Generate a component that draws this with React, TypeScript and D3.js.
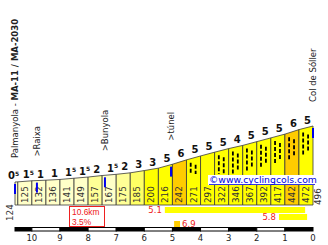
import React from "react";
import * as d3 from "d3";

const boundaryKm = [10.6, 10.5, 10, 9.5, 9, 8.5, 8, 7.5, 7, 6.5, 6, 5.5, 5, 4.5, 4, 3.5, 3, 2.5, 2, 1.5, 1, 0.5, 0];
const altitudes = [124, 125, 132, 136, 141, 149, 157, 167, 175, 185, 200, 216, 242, 271, 297, 322, 346, 367, 392, 417, 442, 472, 496];
const gradientMain = ["0", "1", "1", "1", "1", "1", "2", "1", "2", "3", "3", "5", "6", "5", "5", "5", "4", "5", "5", "5", "6", "5"];
const gradientSup = ["5", "5", "", "", "5", "5", "", "5", "", "", "", "", "", "", "", "", "", "", "", "", "", ""];
const segmentClass = [0, 0, 0, 0, 0, 0, 1, 0, 1, 2, 3, 3, 4, 3, 3, 3, 3, 3, 3, 3, 4, 3];
const classColors = ["#ffffc8", "#ffff96", "#ffff64", "#ffff00", "#ffcc00"];
const dashedSegments = [13, 15, 16, 17, 18, 19, 20, 21];

const places = [
  { km: 10.6, normal: "Palmanyola - ", bold: "MA-11 / MA-2030" },
  { km: 9.82, normal: ">Raixa", bold: "" },
  { km: 7.4, normal: ">Bunyola", bold: "" },
  { km: 5.05, normal: ">túnel", bold: "" },
  { km: 0, normal: "Col de Sóller", bold: "" },
];

const scaleKm = [10.6, 10, 9, 8, 7, 6, 5, 4, 3, 2, 1, 0];
const tickKm = [10, 9, 8, 7, 6, 5, 4, 3, 2, 1, 0];

const steepSections = [
  { from: 5.27, to: 0.28, grade: "5.1", row: 0, color: "#ffff00", side: "left" },
  { from: 1.21, to: 0.21, grade: "5.8", row: 1, color: "#ffff00", side: "left" },
  { from: 4.94, to: 4.73, grade: "6.9", row: 2, color: "#ffcc00", side: "right" },
];

const totalLength = "10.6km";
const avgGrade = "3.5%";

export default function App() {
  const W = 328, H = 245;
  const x = d3.scaleLinear().domain([10.6, 0]).range([15, 313]);
  const y = d3.scaleLinear().domain([124, 496]).range([182, 126]);
  const base = 205;
  const altAt = d3.scaleLinear().domain(boundaryKm).range(altitudes);
  const font = "'DejaVu Sans', Verdana, sans-serif";
  const arial = "'Liberation Sans', Arial, sans-serif";
  const red = "#ee2020";

  const segs = boundaryKm.slice(0, -1).map((k0, i) => ({
    i,
    x0: x(k0),
    x1: x(boundaryKm[i + 1]),
    a0: altitudes[i],
    a1: altitudes[i + 1],
  }));

  return (
    <svg width={W} height={H} style={{ position: "absolute", left: 0, top: 0, background: "#fff" }} fontFamily={font}>
      <rect width={W} height={H} fill="#fff" />
      {segs.map((s) => (
        <polygon
          key={"p" + s.i}
          points={`${s.x0},${base} ${s.x0},${y(s.a0)} ${s.x1},${y(s.a1)} ${s.x1},${base}`}
          fill={classColors[segmentClass[s.i]]}
          stroke="#3a3a3a"
          strokeWidth={0.8}
        />
      ))}
      {segs
        .filter((s) => dashedSegments.includes(s.i))
        .map((s) => {
          const w = s.x1 - s.x0;
          const top = Math.max(y(s.a0), y(s.a1)) + 3;
          return (
            <g key={"d" + s.i} stroke="#000" strokeWidth={1.8} strokeDasharray="4,2">
              <line x1={s.x0 + w * 0.3} x2={s.x0 + w * 0.3} y1={top} y2={Math.min(top + 24, 174)} />
              <line x1={s.x0 + w * 0.65} x2={s.x0 + w * 0.65} y1={top + 2} y2={Math.min(top + 20, 174)} />
            </g>
          );
        })}
      {/* altitude labels */}
      {segs.slice(1).map((s) => (
        <text
          key={"a" + s.i}
          transform={`translate(${(s.x0 + s.x1) / 2 + 3},${base - 2}) rotate(-90)`}
          fontSize={8.8}
          fill="#333"
        >
          {s.a0}
        </text>
      ))}
      <text transform={`translate(${x(0) + 8},${base}) rotate(-90)`} fontSize={8.8} fill="#333">
        {altitudes[altitudes.length - 1]}
      </text>
      <text transform={`translate(13,221) rotate(-90)`} fontSize={8.8} fill="#333">
        {altitudes[0]}
      </text>
      {/* gradient labels */}
      {segs.map((s) => {
        const hasSup = gradientSup[s.i] !== "";
        const cx = s.i === 0 ? 13.5 : (s.x0 + s.x1) / 2 + 1.5 + (hasSup ? 2 : 0);
        const by = Math.min(y(s.a0), y(s.a1)) - 2.5;
        return (
          <text key={"g" + s.i} x={cx} y={by} fontSize={10} fontWeight="bold" fill="#111" textAnchor="middle">
            {gradientMain[s.i]}
            {hasSup && (
              <tspan fontSize={6} dy={-3.5}>
                {gradientSup[s.i]}
              </tspan>
            )}
          </text>
        );
      })}
      {/* places */}
      {places.map((p, i) => {
        const px = x(p.km);
        const by = y(altAt(p.km)) - 24;
        return (
          <g key={"pl" + i}>
            <text transform={`translate(${px + 3},${by}) rotate(-90)`} fontSize={8.5} fill="#222">
              {p.normal}
              {p.bold && <tspan fontWeight="bold">{p.bold}</tspan>}
            </text>
            <line x1={px} x2={px} y1={y(altAt(p.km)) + 2} y2={y(altAt(p.km)) + 12} stroke="#0000ee" strokeWidth={2} />
          </g>
        );
      })}
      {/* watermark */}
      <rect x={208} y={175} width={106} height={10} fill="#fff" />
      <text x={209} y={183} fontSize={9.3} fill="#0000dd">
        ©www.cyclingcols.com
      </text>
      <line x1={209} x2={315} y1={184.5} y2={184.5} stroke="#0000dd" strokeWidth={0.8} />
      {/* summary box */}
      <rect x={69.5} y={206.5} width={35} height={20} fill="#fff" stroke={red} strokeWidth={1} />
      <text x={72} y={214.6} fontSize={8.4} fill={red} fontFamily={arial}>{totalLength}</text>
      <text x={72} y={224.6} fontSize={8.4} fill={red} fontFamily={arial}>{avgGrade}</text>
      {/* steep sections */}
      {steepSections.map((s, i) => {
        const y0 = 207 + s.row * 7;
        return (
          <g key={"s" + i}>
            <rect x={x(s.from)} y={y0} width={x(s.to) - x(s.from)} height={6} fill={s.color} />
            <text
              x={s.side === "left" ? x(s.from) - 3 : x(s.to) + 2}
              y={y0 + 6}
              fontSize={8.5}
              fill={red}
              textAnchor={s.side === "left" ? "end" : "start"}
            >
              {s.grade}
            </text>
          </g>
        );
      })}
      {/* distance scale */}
      {scaleKm.slice(0, -1).map((k, i) => (
        <rect
          key={"sc" + i}
          x={x(k)}
          y={227.5}
          width={x(scaleKm[i + 1]) - x(k)}
          height={3.5}
          fill={i % 2 === 0 ? "#000" : "#fff"}
          stroke="#000"
          strokeWidth={1}
        />
      ))}
      {tickKm.map((k) => (
        <text key={"t" + k} x={x(k)} y={241} fontSize={8.5} fill="#222" textAnchor="middle">
          {k}
        </text>
      ))}
    </svg>
  );
}
